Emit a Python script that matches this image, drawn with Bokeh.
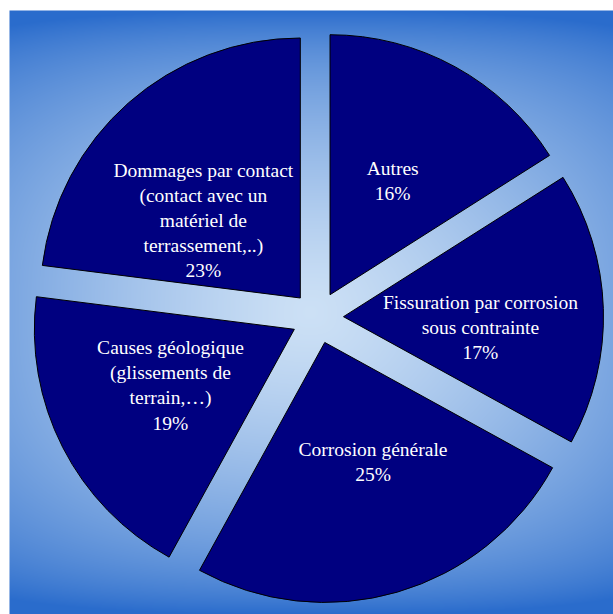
import numpy as np
from bokeh.plotting import figure
from bokeh.models import ColumnDataSource
from bokeh.embed import file_html
from bokeh.resources import INLINE
from bokeh.core.properties import value

# ---- data ----
categories = [
    "Autres",
    "Fissuration par corrosion\nsous contrainte",
    "Corrosion générale",
    "Causes géologique\n(glissements de\nterrain,…)",
    "Dommages par contact\n(contact avec un\nmatériel de\nterrassement,..)",
]
percent = [16, 17, 25, 19, 23]

# ---- layout / style ----
W, H = 613, 614
CX, CY = 317, 297          # pie centre (data units = px)
R = 260                     # pie radius
EXPLODE = 26                # slice offset
LABEL_R = 130               # label distance from slice apex
label_nudge = [(0, 0), (7, -15), (12, 5), (-8, 3), (-11, -20)]
SLICE = "#000080"

p = figure(width=W, height=H, x_range=(0, W), y_range=(0, H),
           output_backend="svg", toolbar_location=None, min_border=0)
p.axis.visible = False
p.grid.visible = False
p.outline_line_color = None
p.background_fill_color = "white"
p.border_fill_color = "white"

# background gradient (style only)
gx0, gy0 = 9, 0
gw, gh = 604, 604
GCX, GCY = 310, 302
xs = np.arange(gw) + 0.5 + gx0
ys = np.arange(gh) + 0.5 + gy0
X, Y = np.meshgrid(xs, ys)
ux = np.clip(np.abs(X - GCX) / 302, 0, 1)
uy = np.clip(np.abs(Y - GCY) / 302, 0, 1)
tx = 0.5 * ux ** 1.3
ty = 0.8 * uy ** 1.4 + 0.2 * uy ** 10
t = np.clip(np.sqrt(tx ** 2 + ty ** 2), 0, 1)
light = np.array([204, 224, 245], dtype=float)
dark = np.array([42, 108, 204], dtype=float)
rgb = light + t[..., None] * (dark - light)
img = np.zeros((gh, gw), dtype=np.uint32)
view = img.view(dtype=np.uint8).reshape((gh, gw, 4))
view[..., 0:3] = np.round(rgb).astype(np.uint8)
view[..., 3] = 255
p.image_rgba(image=[img], x=gx0, y=gy0, dw=gw, dh=gh)

# pie geometry from data
total = float(sum(percent))
cum = np.concatenate([[0], np.cumsum(percent)]) / total * 360.0
starts, ends, xs_, ys_, lx, ly, labels = [], [], [], [], [], [], []
for i, v in enumerate(percent):
    th1, th2 = cum[i], cum[i + 1]
    a_start = np.radians(90 - th2)
    a_end = np.radians(90 - th1)
    mid = np.radians(90 - (th1 + th2) / 2)
    x0 = CX + EXPLODE * np.cos(mid)
    y0 = CY + EXPLODE * np.sin(mid)
    starts.append(a_start)
    ends.append(a_end)
    xs_.append(x0)
    ys_.append(y0)
    lx.append(x0 + LABEL_R * np.cos(mid) + label_nudge[i][0])
    ly.append(y0 + LABEL_R * np.sin(mid) + label_nudge[i][1])
    labels.append(f"{categories[i]}\n{v}%")

src = ColumnDataSource(dict(x=xs_, y=ys_, start=starts, end=ends,
                            lx=lx, ly=ly, label=labels))
p.wedge(x="x", y="y", radius=R, start_angle="start", end_angle="end",
        direction="anticlock", fill_color=SLICE, line_color="black",
        line_width=1, source=src)
p.text(x="lx", y="ly", text="label", source=src, text_color="white",
       text_font=value("Liberation Serif"), text_font_size="19.5px",
       text_align="center", text_baseline="middle", text_line_height=1.2)

open("out.html", "w").write(file_html(p, INLINE))
